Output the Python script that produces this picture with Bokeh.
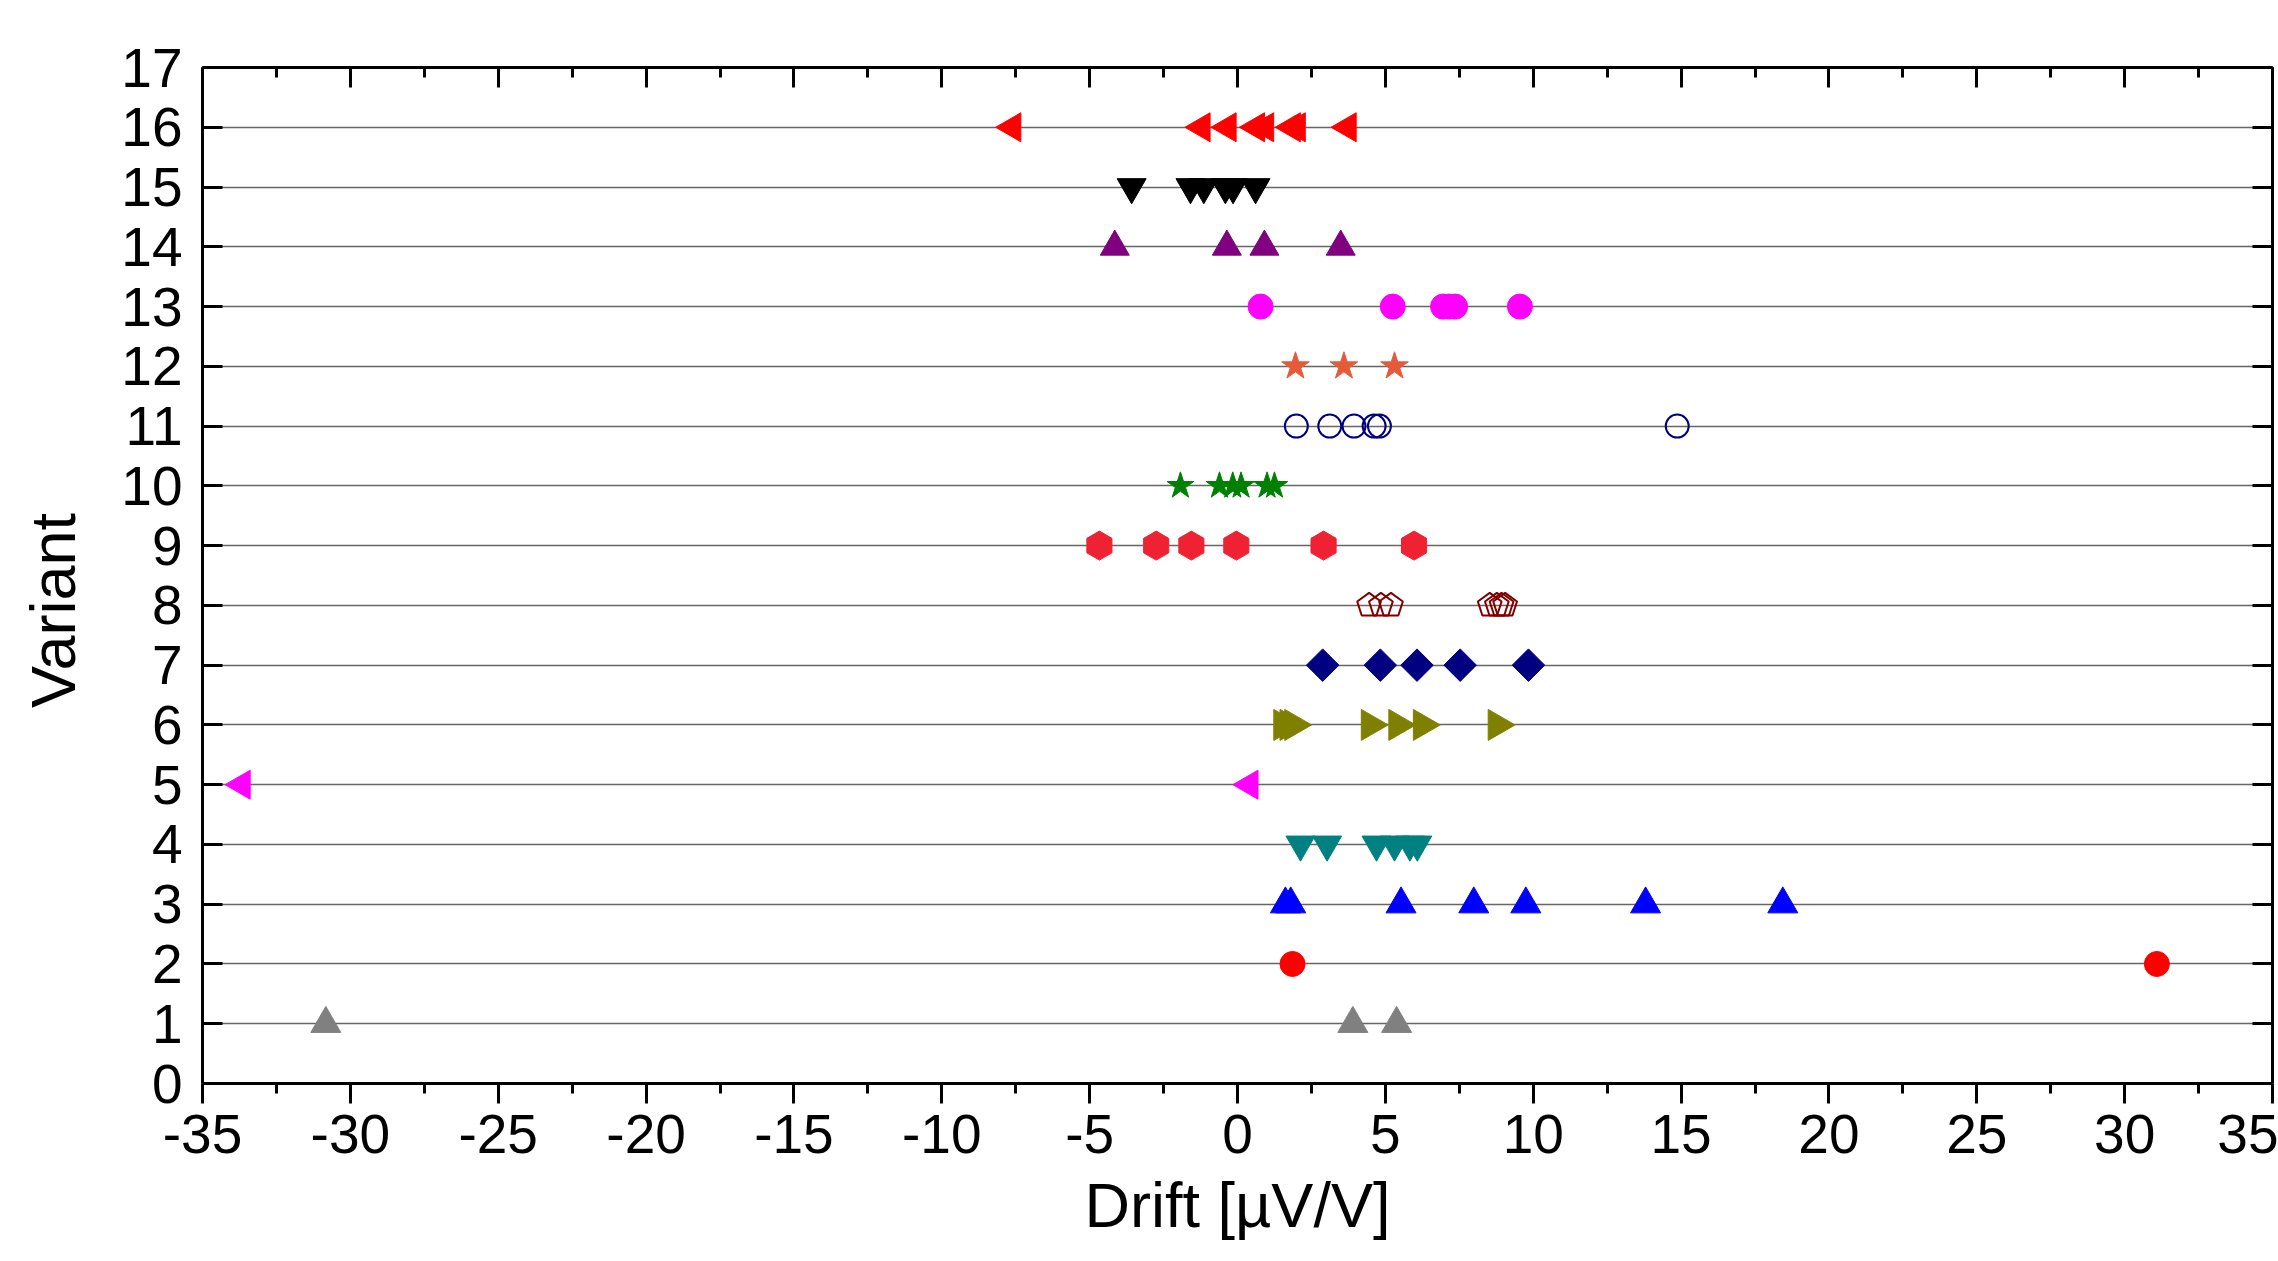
import math
from bokeh.plotting import figure
from bokeh.models import LinearAxis, FixedTicker, CustomJSTickFormatter, Range1d
from bokeh.embed import file_html
from bokeh.resources import INLINE

# ---- data: drift values per variant ----
v1 = [-30.83, 3.90, 5.38]
v2 = [1.86, 31.09]
v3 = [1.62, 1.80, 5.53, 7.99, 9.75, 13.80, 18.44]
v4 = [2.13, 3.03, 4.70, 5.31, 5.83, 6.08]
v5 = [-33.67, 0.41]
v6 = [1.53, 1.74, 1.90, 4.49, 5.42, 6.25, 8.78]
v7 = [2.88, 4.83, 6.07, 7.53, 9.84]
v8 = [4.45, 4.85, 5.19, 8.53, 8.77, 8.93, 9.05]
v9 = [-4.67, -2.75, -1.56, -0.04, 2.91, 5.97]
v10 = [-1.93, -0.61, -0.16, 0.12, 1.00, 1.25]
v11 = [1.99, 3.12, 3.94, 4.62, 4.80, 14.87]
v12 = [1.96, 3.60, 5.31]
v13 = [0.78, 5.25, 6.95, 7.14, 7.36, 9.55]
v14 = [-4.15, -0.36, 0.91, 3.49]
v15 = [-3.58, -1.59, -1.14, -0.41, -0.15, 0.61]
v16 = [-7.61, -1.21, -0.33, 0.63, 0.94, 1.84, 2.01, 3.73]

x_ticks = list(range(-35, 40, 5))
x_minor = [t + 2.5 for t in range(-35, 35, 5)]
y_ticks = list(range(0, 18))
x_title = "Drift [\u00b5V/V]"
y_title = "Variant"

FONT = "Liberation Sans"

p = figure(width=2278, height=1261, output_backend="svg", toolbar_location=None,
           x_range=Range1d(-35, 35), y_range=Range1d(0, 17),
           min_border_left=202, min_border_right=6, min_border_top=67, min_border_bottom=178,
           background_fill_color="white", border_fill_color="white")
p.outline_line_color = None

# grid
p.xgrid.visible = False
p.ygrid.ticker = FixedTicker(ticks=y_ticks)
p.ygrid.grid_line_color = "#666666"
p.ygrid.grid_line_width = 1.5

plain = CustomJSTickFormatter(code="return String(tick)")
blank = CustomJSTickFormatter(code="return ''")

# bottom axis
xa = p.xaxis[0]
xa.ticker = FixedTicker(ticks=x_ticks, minor_ticks=x_minor)
xa.formatter = plain
xa.major_tick_in = 0
xa.major_tick_out = 20
xa.minor_tick_in = 0
xa.minor_tick_out = 10
xa.axis_line_width = 3
xa.major_tick_line_width = 3
xa.minor_tick_line_width = 3
xa.major_label_text_font = FONT
xa.major_label_text_font_size = "55px"
xa.major_label_text_color = "black"
xa.major_label_standoff = 11
xa.axis_label = x_title
xa.axis_label_text_font = FONT
xa.axis_label_text_font_size = "63px"
xa.axis_label_text_font_style = "normal"
xa.axis_label_text_color = "black"
xa.axis_label_standoff = 14

# left axis
ya = p.yaxis[0]
ya.ticker = FixedTicker(ticks=y_ticks)
ya.formatter = plain
ya.major_tick_in = 20
ya.major_tick_out = 0
ya.minor_tick_in = 0
ya.minor_tick_out = 0
ya.axis_line_width = 3
ya.major_tick_line_width = 3
ya.major_label_text_font = FONT
ya.major_label_text_font_size = "55px"
ya.major_label_text_color = "black"
ya.major_label_standoff = 20
ya.axis_label = y_title + "\u00a0" * 4
ya.axis_label_text_font = FONT
ya.axis_label_text_font_size = "63px"
ya.axis_label_text_font_style = "normal"
ya.axis_label_text_color = "black"
ya.axis_label_standoff = 30

top = LinearAxis(ticker=FixedTicker(ticks=x_ticks, minor_ticks=x_minor), formatter=blank,
                 major_tick_in=20, major_tick_out=0, minor_tick_in=10, minor_tick_out=0,
                 axis_line_width=3, major_tick_line_width=3, minor_tick_line_width=3,
                 major_label_standoff=0, major_label_text_font_size="1px")
p.add_layout(top, "above")

right = LinearAxis(ticker=FixedTicker(ticks=y_ticks), formatter=blank,
                   major_tick_in=20, major_tick_out=0, minor_tick_in=0, minor_tick_out=0,
                   axis_line_width=3, major_tick_line_width=3,
                   major_label_standoff=0, major_label_text_font_size="1px")
p.add_layout(right, "right")

def row(vals, k):
    return [k] * len(vals)

# variant 1: gray up triangles
p.scatter(v1, row(v1, 1), marker="triangle", size=30, color="#808080")
# variant 2: red circles
p.scatter(v2, row(v2, 2), marker="circle", size=25, color="#FF0000")
# variant 3: blue up triangles
p.scatter(v3, row(v3, 3), marker="triangle", size=30, color="#0000FF")
# variant 4: teal down triangles
p.scatter(v4, row(v4, 4), marker="inverted_triangle", size=29, color="#008080")
# variant 5: magenta left triangles
p.scatter(v5, row(v5, 5), marker="triangle", size=29, angle=math.pi / 2, color="#FF00FF")
# variant 6: olive right triangles
p.scatter(v6, row(v6, 6), marker="triangle", size=31, angle=-math.pi / 2, color="#808000")
# variant 7: navy diamonds
p.scatter(v7, row(v7, 7), marker="square", size=23, angle=math.pi / 4, color="#000080")
# variant 8: dark red open pentagons
p.ngon(x=v8, y=row(v8, 8), radius=12.5, radius_units="screen", n=5,
       fill_color=None, line_color="#800000", line_width=2)
# variant 9: red hexagons
p.scatter(v9, row(v9, 9), marker="hex", size=29, angle=math.pi / 2, color="#EE2233")
# variant 10: green stars
p.scatter(v10, row(v10, 10), marker="star", size=28, color="#008000")
# variant 11: navy open circles
p.scatter(v11, row(v11, 11), marker="circle", size=23, fill_color=None,
          line_color="#000080", line_width=2)
# variant 12: orange-red stars
p.scatter(v12, row(v12, 12), marker="star", size=29, color="#E65A3C")
# variant 13: magenta circles
p.scatter(v13, row(v13, 13), marker="circle", size=25, color="#FF00FF")
# variant 14: purple up triangles
p.scatter(v14, row(v14, 14), marker="triangle", size=29, color="#800080")
# variant 15: black down triangles
p.scatter(v15, row(v15, 15), marker="inverted_triangle", size=29, color="#000000")
# variant 16: red left triangles
p.scatter(v16, row(v16, 16), marker="triangle", size=29, angle=math.pi / 2, color="#FF0000")

open("out.html", "w").write(file_html(p, INLINE))
